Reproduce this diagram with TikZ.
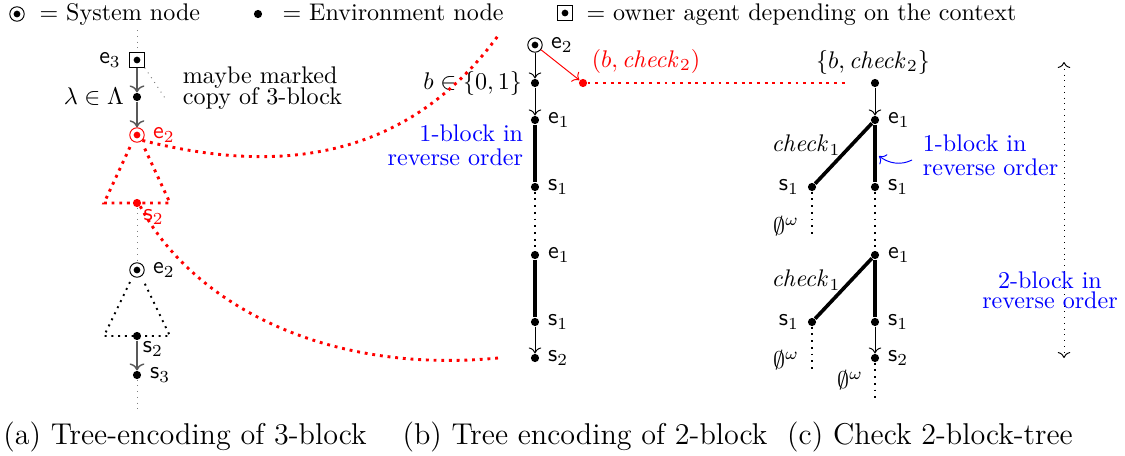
\documentclass[tikz,border=0pt]{standalone}
\usetikzlibrary{arrows.meta}
\begin{document}
\begin{tikzpicture}[x=0.0146cm,y=-0.0146cm]
\tikzstyle{sys}=[draw,circle,inner sep=0pt,minimum size=6pt,
  path picture={\fill (path picture bounding box.center) circle (1.4pt);}]
\tikzstyle{env}=[fill,circle,inner sep=0pt,minimum size=3.4pt]
\tikzstyle{own}=[draw,rectangle,inner sep=0pt,minimum size=6pt,
  path picture={\fill (path picture bounding box.center) circle (1.4pt);}]
\tikzstyle{blk}=[line width=1.5pt]
\tikzstyle{dots}=[thick,dotted]
\tikzstyle{reddots}=[red,very thick,dotted]
\tikzstyle{grayline}=[black!65,semithick]
\tikzstyle{note}=[align=left,inner sep=1pt]
\tikzstyle{captxt}=[font=\fontsize{12.5}{15}\selectfont]
\useasboundingbox (0,0) rectangle (1125,455);

% legend
\node[sys] (lsys) at (17,14) {};
\node[anchor=base west] (lsyst) at (31,20) {$=$ System node};
\node[env] (lenv) at (258,14) {};
\node[anchor=base west] (lenvt) at (274,20) {$=$ Environment node};
\node[own] (lown) at (565,13) {};
\node[anchor=base west] (lownt) at (578,20) {$=$ owner agent depending on the context};

% (a)
\coordinate (atop) at (137,30);
\node[own,label={left:\textsf{e}$_3$}] (a3) at (137,60) {};
\node[env,label={left:$\lambda\in\Lambda$}] (ala) at (137,97) {};
\node[sys,red,label={[red]right:\textsf{e}$_2$}] (ae2) at (137,135) {};
\node[env,red,label={[red,label distance=-3pt]below right:\textsf{s}$_2$}] (as2) at (137,203) {};
\node[sys,label={right:\textsf{e}$_2$}] (be2) at (137,270) {};
\node[env,label={[label distance=-3.5pt]below right:\textsf{s}$_2$}] (bs2) at (137,336) {};
\node[env,label={right:\textsf{s}$_3$}] (as3) at (137,375) {};
\coordinate (abot) at (137,410);
\node[note,anchor=west] (amark) at (180,88) {maybe marked\\[-3pt]copy of 3-block};
\coordinate (amk) at (165,98);

\draw[gray,dotted] (atop) -- (a3);
\draw[grayline,->] (a3) -- (ala);
\draw[grayline,->] (ala) -- (ae2);
\draw[gray,dotted] (a3.south east) -- (amk);
\draw[reddots] (130,147) -- (104,203) -- (170,203) -- (144,147);
\draw[gray,dotted] (as2) -- (be2);
\draw[dots] (130,282) -- (104,336) -- (170,336) -- (144,282);
\draw[grayline,->] (bs2) -- (as3);
\draw[gray,dotted] (as3) -- (abot);

% (b)
\node[sys,label={right:\textsf{e}$_2$}] (be2t) at (535,45) {};
\node[env,label={left:$b\in\{0,1\}$}] (bb) at (535,83) {};
\node[env,label={right:\textsf{e}$_1$}] (be1) at (535,120) {};
\node[env,label={right:\textsf{s}$_1$}] (bs1) at (535,187) {};
\node[env,label={right:\textsf{e}$_1$}] (be1b) at (535,255) {};
\node[env,label={right:\textsf{s}$_1$}] (bs1b) at (535,322) {};
\node[env,label={right:\textsf{s}$_2$}] (bs2b) at (535,358) {};
\node[env,red] (bc) at (583,83) {};
\node[red] (bct) at (646,61) {$(b,\mathit{check}_2)$};
\coordinate (bend) at (845,83);
\node[note,blue,align=right,anchor=east] (bblk) at (526,145) {1-block in\\[-2pt]reverse order};

\draw[->] (be2t) -- (bb);
\draw[->] (bb) -- (be1);
\draw[blk] (be1) -- (bs1);
\draw[dots] (bs1) -- (be1b);
\draw[blk] (be1b) -- (bs1b);
\draw[->] (bs1b) -- (bs2b);
\draw[red,->] (be2t) -- (bc);
\draw[reddots] (bc) -- (bend);

% links (a) -> (b)
\coordinate (lk1) at (500,33);
\coordinate (lk2) at (498,358);
\draw[reddots] (ae2.south east) .. controls (260,170) and (400,172) .. (lk1);
\draw[reddots] (as2.south east) .. controls (190,300) and (320,375) .. (lk2);

% (c)
\node (cbt) at (873,62) {$\{b,\mathit{check}_2\}$};
\node[env] (cb) at (875,83) {};
\node[env,label={right:\textsf{e}$_1$}] (ce1) at (875,120) {};
\node[env,label={right:\textsf{s}$_1$}] (cs1) at (875,187) {};
\node[env,label={left:\textsf{s}$_1$}] (cl1) at (812,187) {};
\coordinate (cl1e) at (812,237);
\node[env,label={right:\textsf{e}$_1$}] (ce1b) at (875,255) {};
\node[env,label={right:\textsf{s}$_1$}] (cs1b) at (875,322) {};
\node[env,label={left:\textsf{s}$_1$}] (cl2) at (812,322) {};
\coordinate (cl2e) at (812,370);
\node[env,label={right:\textsf{s}$_2$}] (cs2) at (875,358) {};
\coordinate (cend) at (875,400);
\node (cck1) at (806,145) {$\mathit{check}_1$};
\node (cck2) at (806,280) {$\mathit{check}_1$};
\node (cem1) at (786,226) {$\emptyset^\omega$};
\node (cem2) at (786,360) {$\emptyset^\omega$};
\node (cem3) at (850,380) {$\emptyset^\omega$};
\node[note,blue,anchor=west] (cblk) at (920,155) {1-block in\\[-2pt]reverse order};
\coordinate (carr) at (912,160);
\coordinate (ctop) at (1064,62);
\coordinate (cbot) at (1064,358);

\draw[->] (cb) -- (ce1);
\draw[blk] (ce1) -- (cs1);
\draw[blk] (ce1) -- (cl1);
\draw[dots] (cl1) -- (cl1e);
\draw[dots] (cs1) -- (ce1b);
\draw[blk] (ce1b) -- (cs1b);
\draw[blk] (ce1b) -- (cl2);
\draw[dots] (cl2) -- (cl2e);
\draw[->] (cs1b) -- (cs2);
\draw[dots] (cs2) -- (cend);
\draw[blue,->] (carr) .. controls (900,166) and (888,163) .. (879,156);
\draw[dotted,<->] (ctop) -- (cbot);
\node[note,blue,align=center] (cblk2) at (1050,290) {2-block in\\[-3.5pt]reverse order};

% captions
\node[captxt] (capa) at (185,437) {(a) Tree-encoding of 3-block};
\node[captxt] (capb) at (585,437) {(b) Tree encoding of 2-block};
\node[captxt] (capc) at (930,437) {(c) Check 2-block-tree};
\end{tikzpicture}
\end{document}
